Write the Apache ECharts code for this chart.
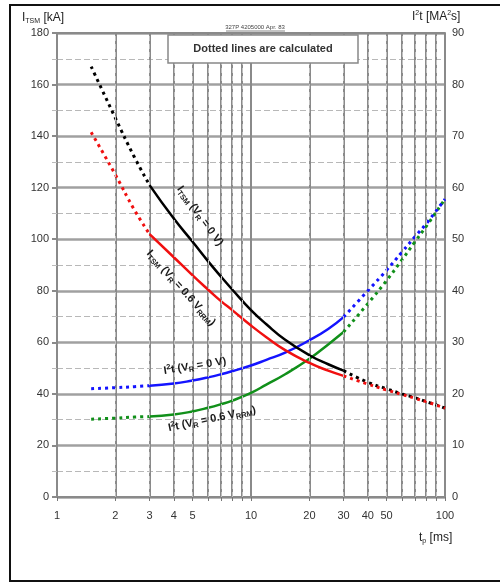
<!DOCTYPE html>
<html>
<head>
<meta charset="utf-8">
<script src="https://cdn.jsdelivr.net/npm/echarts@6/dist/echarts.min.js"></script>
<style>
  html, body { margin: 0; padding: 0; background: #fff; }
  #chart { width: 500px; height: 582px; }
</style>
</head>
<body>
<div id="chart"></div>
<script>
// Pulse length sample points [ms]
const tPre  = [1.5, 2, 2.5, 3];
const tMid  = [3, 4, 5, 6, 7, 8, 10, 12, 15, 20, 25, 30];
const tPost = [30, 40, 50, 60, 70, 80, 100];

// Surge current I_TSM [kA], V_R = 0 V
const itsm0Pre  = [167, 147, 132, 121];
const itsm0Mid  = [121, 108, 99, 91.5, 85.5, 80.5, 72.5, 67, 61, 55, 51.5, 49];
const itsm0Post = [49, 44.5, 42, 40, 38.5, 37, 34.5];

// Surge current I_TSM [kA], V_R = 0.6 V_RRM
const itsm6Pre  = [141.5, 125, 111.5, 102];
const itsm6Mid  = [102, 93, 86, 80.5, 76, 72.5, 66.5, 62, 57, 52, 49, 47];
const itsm6Post = [47, 43.8, 41.5, 39.8, 38.3, 37, 34.5];

// Limiting load integral I²t [MA²s], V_R = 0 V
const i2t0Pre  = [21, 21.2, 21.4, 21.6];
const i2t0Mid  = [21.6, 22, 22.6, 23.2, 23.8, 24.4, 25.5, 26.6, 28, 30.4, 32.6, 34.9];
const i2t0Post = [34.9, 40, 44, 47.5, 50.5, 53, 57.8];

// Limiting load integral I²t [MA²s], V_R = 0.6 V_RRM
const i2t6Pre  = [15.1, 15.3, 15.5, 15.6];
const i2t6Mid  = [15.6, 16, 16.6, 17.3, 18, 18.7, 20.2, 21.8, 23.8, 26.8, 29.6, 32];
const i2t6Post = [32, 37.5, 42, 46, 49.5, 52.5, 57.8];

// Axis ticks
const xLabelValues = [1, 2, 3, 4, 5, 10, 20, 30, 40, 50, 100];
const xTickValues  = [1, 2, 3, 4, 5, 6, 7, 8, 9, 10, 20, 30, 40, 50, 60, 70, 80, 90, 100];
const xMinorGrid   = [2, 3, 4, 5, 6, 7, 8, 9, 20, 30, 40, 50, 60, 70, 80, 90];

const FONT = 'Liberation Sans, Arial, sans-serif';
const zip = (xs, ys) => xs.map((x, i) => [x, ys[i]]);

function curve(name, xs, ys, color, dotted, yAxisIndex) {
  return {
    name: name,
    type: 'line',
    yAxisIndex: yAxisIndex,
    data: zip(xs, ys),
    smooth: 0.5,
    showSymbol: false,
    silent: true,
    z: dotted ? 3 : 4,
    lineStyle: dotted
      ? { color: color, width: 3, type: [3, 4], cap: 'butt' }
      : { color: color, width: 2.5 }
  };
}

const chart = echarts.init(document.getElementById('chart'), null, { renderer: 'canvas' });

const series = [
  // vertical intermediate grid lines
  {
    type: 'line', data: [], silent: true,
    markLine: {
      silent: true, symbol: 'none', label: { show: false },
      lineStyle: { color: '#c0c0c0', width: 1, type: [5, 3] },
      data: xMinorGrid.map(v => ({ xAxis: v }))
    }
  },
  curve('i2t6Pre',  tPre,  i2t6Pre,  '#11901a', true, 1),
  curve('i2t6Mid',  tMid,  i2t6Mid,  '#11901a', false, 1),
  curve('i2t6Post', tPost, i2t6Post, '#11901a', true, 1),
  curve('i2t0Pre',  tPre,  i2t0Pre,  '#1414ff', true, 1),
  curve('i2t0Mid',  tMid,  i2t0Mid,  '#1414ff', false, 1),
  curve('i2t0Post', tPost, i2t0Post, '#1414ff', true, 1),
  curve('itsm0Pre',  tPre,  itsm0Pre,  '#000000', true, 0),
  curve('itsm0Mid',  tMid,  itsm0Mid,  '#000000', false, 0),
  curve('itsm0Post', tPost, itsm0Post, '#000000', true, 0),
  curve('itsm6Pre',  tPre,  itsm6Pre,  '#f01010', true, 0),
  curve('itsm6Mid',  tMid,  itsm6Mid,  '#f01010', false, 0),
  curve('itsm6Post', tPost, itsm6Post, '#f01010', true, 0)
];

function curveLabel(x, y, rot, text) {
  return {
    type: 'text', x: x, y: y, rotation: rot * Math.PI / 180, z: 20,
    style: {
      text: text, x: 0, y: 0, align: 'center', verticalAlign: 'middle',
      fontSize: 11, fontWeight: 'bold', fontFamily: FONT, fill: '#1a1a1a',
      rich: {
        s: { fontSize: 7.5, fontWeight: 'bold', fontFamily: FONT, fill: '#1a1a1a', padding: [6, 0, 0, 0] },
        p: { fontSize: 7.5, fontWeight: 'bold', fontFamily: FONT, fill: '#1a1a1a', padding: [0, 0, 6, 0] }
      }
    }
  };
}

chart.setOption({
  animation: false,
  backgroundColor: '#fff',
  grid: { left: 57, right: 55, top: 33, bottom: 85 },
  xAxis: {
    type: 'log', logBase: 10, min: 1, max: 100,
    axisLine: { show: true, lineStyle: { color: '#8a8a8a', width: 2 } },
    axisTick: { show: true, length: 4, lineStyle: { color: '#777' }, customValues: xTickValues },
    axisLabel: { color: '#333', fontSize: 11, fontFamily: FONT, margin: 13, customValues: xLabelValues },
    splitLine: { show: true, lineStyle: { color: '#8a8a8a', width: 2 } },
    minorTick: { show: false },
    minorSplitLine: { show: false }
  },
  yAxis: [
    {
      type: 'value', min: 0, max: 180, interval: 20, position: 'left',
      axisLine: { show: true, lineStyle: { color: '#8a8a8a', width: 2 } },
      axisTick: { show: true, length: 5, lineStyle: { color: '#8a8a8a', width: 2 } },
      axisLabel: { color: '#333', fontSize: 11, fontFamily: FONT, margin: 8 },
      splitLine: { show: true, lineStyle: { color: '#a0a0a0', width: 2.5 } },
      minorTick: { show: true, splitNumber: 2, length: 5, lineStyle: { color: '#bbb' } },
      minorSplitLine: { show: true, lineStyle: { color: '#b8b8b8', width: 1, type: [6, 3] } }
    },
    {
      type: 'value', min: 0, max: 90, interval: 10, position: 'right',
      axisLine: { show: true, lineStyle: { color: '#8a8a8a', width: 2 } },
      axisTick: { show: false },
      axisLabel: { color: '#333', fontSize: 11, fontFamily: FONT, margin: 7 },
      splitLine: { show: false }
    }
  ],
  series: series,
  graphic: [
    // outer frame (open to the right)
    { type: 'polyline', shape: { points: [[520, 5], [10, 5], [10, 581], [520, 581]] }, style: { fill: null, stroke: '#111', lineWidth: 2 }, z: 1, silent: true },
    // top border of plot
    { type: 'line', shape: { x1: 57, y1: 33, x2: 445, y2: 33 }, style: { stroke: '#8a8a8a', lineWidth: 2 }, z: 10 },
    // left axis title
    {
      type: 'text', x: 22, y: 18, z: 20,
      style: {
        text: 'I{s|TSM} [kA]', fontSize: 12, fontFamily: FONT, fill: '#222', verticalAlign: 'middle',
        rich: { s: { fontSize: 7, fontFamily: FONT, fill: '#222', padding: [7, 0, 0, 0] } }
      }
    },
    // right axis title
    {
      type: 'text', x: 412, y: 17, z: 20,
      style: {
        text: 'I{p|2}t [MA{p|2}s]', fontSize: 12, fontFamily: FONT, fill: '#222', verticalAlign: 'middle',
        rich: { p: { fontSize: 7, fontFamily: FONT, fill: '#222', padding: [0, 0, 7, 0] } }
      }
    },
    // x axis title
    {
      type: 'text', x: 419, y: 538, z: 20,
      style: {
        text: 't{s|p} [ms]', fontSize: 12, fontFamily: FONT, fill: '#222', verticalAlign: 'middle',
        rich: { s: { fontSize: 7, fontFamily: FONT, fill: '#222', padding: [7, 0, 0, 0] } }
      }
    },
    // document reference
    {
      type: 'text', x: 255, y: 27, z: 20,
      style: { text: '327P 4205000 Apr. 83', fontSize: 6, fontFamily: FONT, fill: '#444', align: 'center', verticalAlign: 'middle' }
    },
    { type: 'line', shape: { x1: 226, y1: 31, x2: 285, y2: 31 }, style: { stroke: '#555', lineWidth: 0.7 }, z: 20 },
    // note box
    {
      type: 'rect', shape: { x: 168, y: 35, width: 190, height: 28 }, z: 15,
      style: { fill: '#fff', stroke: '#888', lineWidth: 1.5 }
    },
    {
      type: 'text', x: 263, y: 49, z: 20,
      style: { text: 'Dotted lines are calculated', fontSize: 11, fontWeight: 'bold', fontFamily: FONT, fill: '#333', align: 'center', verticalAlign: 'middle' }
    },
    // curve labels
    curveLabel(200, 216, -54, 'I{s|TSM} (V{s|R} = 0 V)'),
    curveLabel(181, 288, -48, 'I{s|TSM} (V{s|R} = 0.6 V{s|RRM})'),
    curveLabel(195, 366, 9, 'I{p|2}t (V{s|R} = 0 V)'),
    curveLabel(212, 419, 12, 'I{p|2}t (V{s|R} = 0.6 V{s|RRM})')
  ]
});
</script>
</body>
</html>
